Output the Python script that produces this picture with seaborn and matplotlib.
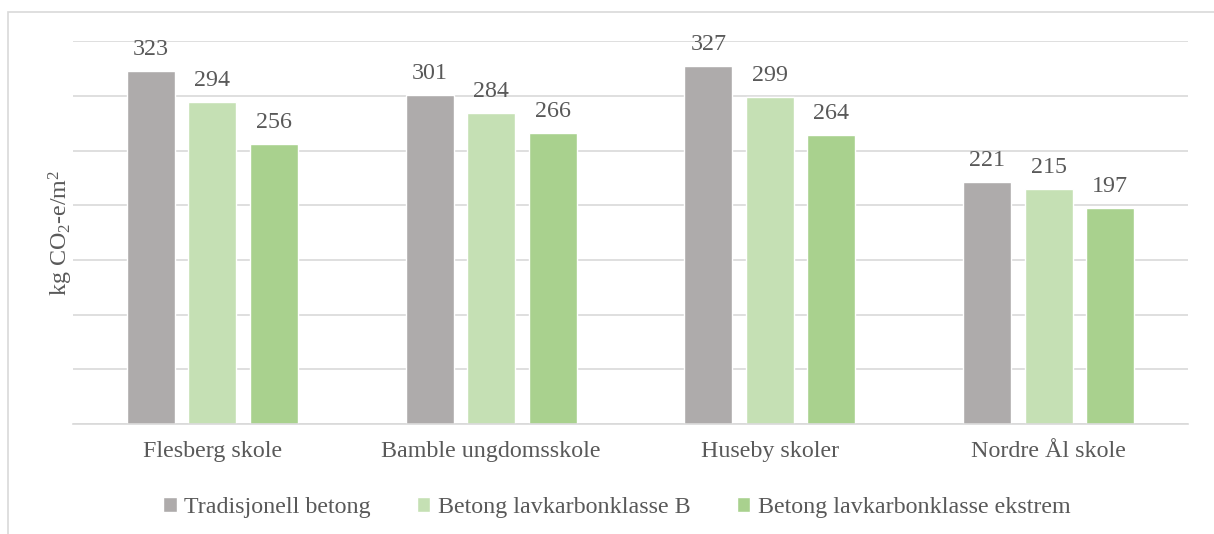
import pandas as pd
import seaborn as sns
import matplotlib.pyplot as plt
from matplotlib.patches import Rectangle

schools = ["Flesberg skole", "Bamble ungdomsskole", "Huseby skoler", "Nordre Ål skole"]
series = ["Tradisjonell betong", "Betong lavkarbonklasse B", "Betong lavkarbonklasse ekstrem"]
tradisjonell = [323, 301, 327, 221]
klasse_b = [294, 284, 299, 215]
ekstrem = [256, 266, 264, 197]
colors = ["#AEABAB", "#C5E0B4", "#A9D18E"]

rows = []
for name, vals in zip(series, [tradisjonell, klasse_b, ekstrem]):
    for school, v in zip(schools, vals):
        rows.append({"skole": school, "type": name, "verdi": v})
df = pd.DataFrame(rows)

sns.set_style("white")
plt.rcParams['font.family'] = ['Liberation Serif', 'DejaVu Serif']
plt.rcParams['mathtext.fontset'] = 'custom'
plt.rcParams['mathtext.rm'] = 'Liberation Serif'
plt.rcParams['mathtext.it'] = 'Liberation Serif:italic'
text_color = "#595959"
grid_color = "#D9D9D9"
fs = 17.3

fig = plt.figure(figsize=(12.14, 5.34), dpi=100)
ax = fig.add_axes([0.0601, 0.206, 0.9185, 0.717])

sns.barplot(data=df, x="skole", y="verdi", hue="type", palette=colors,
            width=0.662, gap=0.22, saturation=1, ax=ax, legend=True)

for cont in ax.containers:
    ax.bar_label(cont, padding=8, fontsize=fs, color=text_color)

ax.set_ylim(0, 350)
ax.set_yticks(range(0, 351, 50))
ax.set_yticklabels([])
ax.yaxis.grid(True, color=grid_color, linewidth=1.2)
ax.set_axisbelow(True)
ax.tick_params(axis="both", length=0, labelsize=fs, colors=text_color, pad=12)
for s in ["top", "right", "left"]:
    ax.spines[s].set_visible(False)
ax.spines["bottom"].set_color(grid_color)
ax.spines["bottom"].set_linewidth(1.2)
ax.set_xlabel("")
ax.set_ylabel("kg CO$_2$-e/m$^2$", fontsize=fs, color=text_color, va="center")
ax.yaxis.set_label_coords(-0.011, 0.5)

handles, labels = ax.get_legend_handles_labels()
ax.legend(handles, labels, loc="center", bbox_to_anchor=(0.508, 0.05),
          bbox_transform=fig.transFigure, ncol=3, frameon=False,
          fontsize=fs, labelcolor=text_color, handlelength=0.55, handleheight=0.55,
          handletextpad=0.3, columnspacing=1.95)

fig.patches.append(Rectangle((8 / 1214, -0.1), 1.2, 0.9775 + 0.1, transform=fig.transFigure,
                             fill=False, edgecolor=grid_color, linewidth=1.2))

fig.savefig("out.png", dpi=100)
